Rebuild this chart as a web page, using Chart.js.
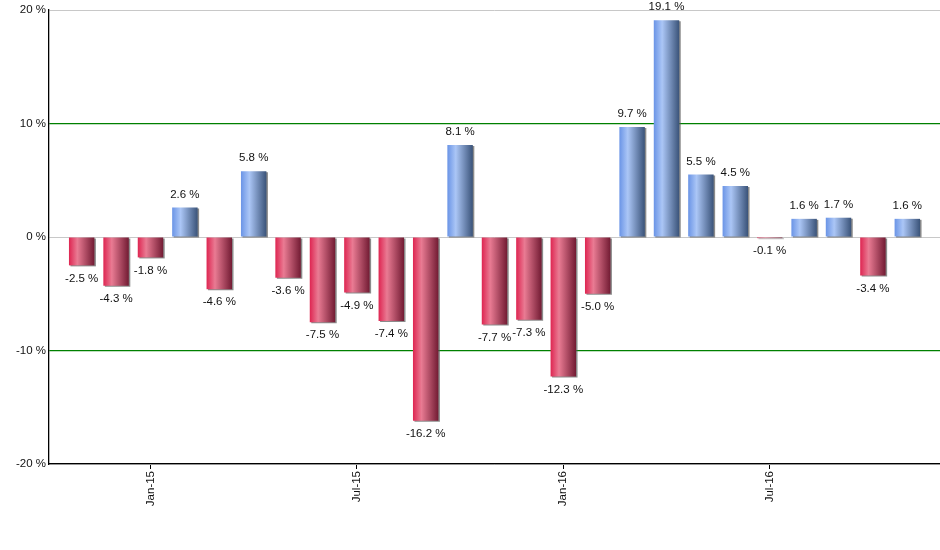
<!DOCTYPE html>
<html>
<head>
<meta charset="utf-8">
<script src="https://cdn.jsdelivr.net/npm/chart.js@4/dist/chart.umd.min.js"></script>
<style>
  html, body { margin: 0; padding: 0; background: #fff; }
  #wrap { width: 940px; height: 550px; }
</style>
</head>
<body>
<div id="wrap"><canvas id="returnsChart"></canvas></div>
<script>
// Monthly returns, Nov-14 .. Nov-16
const months = ['Nov-14', 'Dec-14', 'Jan-15', 'Feb-15', 'Mar-15', 'Apr-15', 'May-15', 'Jun-15',
    'Jul-15', 'Aug-15', 'Sep-15', 'Oct-15', 'Nov-15', 'Dec-15', 'Jan-16', 'Feb-16', 'Mar-16',
    'Apr-16', 'May-16', 'Jun-16', 'Jul-16', 'Aug-16', 'Sep-16', 'Oct-16', 'Nov-16'];
const returns = [-2.5, -4.3, -1.8, 2.6, -4.6, 5.8, -3.6, -7.5, -4.9, -7.4, -16.2, 8.1, -7.7,
    -7.3, -12.3, -5.0, 9.7, 19.1, 5.5, 4.5, -0.1, 1.6, 1.7, -3.4, 1.6];
const shownMonths = ['Jan-15', 'Jul-15', 'Jan-16', 'Jul-16'];
const yTicks = [-20, -10, 0, 10, 20];

const FONT = '"Liberation Sans", Arial, sans-serif';
const BAR_PCT = 0.74;

// horizontal gradient across each bar
function barFill(ctx) {
    const pos = returns[ctx.dataIndex] >= 0;
    const flat = pos ? '#7c9fdc' : '#b4345a';
    if (ctx.type !== 'data') return flat;
    const chart = ctx.chart;
    const xs = chart.scales.x;
    if (!xs) return flat;
    const cx = xs.getPixelForValue(ctx.dataIndex);
    const w = (xs.getPixelForValue(1) - xs.getPixelForValue(0)) * BAR_PCT;
    if (!isFinite(cx) || !isFinite(w) || w <= 0) return flat;
    const g = chart.ctx.createLinearGradient(cx - w / 2, 0, cx + w / 2, 0);
    if (pos) {
        g.addColorStop(0, '#6a94e6');
        g.addColorStop(0.33, '#abc6f6');
        g.addColorStop(1, '#3a5379');
    } else {
        g.addColorStop(0, '#de2551');
        g.addColorStop(0.33, '#e97b93');
        g.addColorStop(1, '#721b33');
    }
    return g;
}

const barShadow = {
    id: 'barShadow',
    beforeDatasetDraw(chart) {
        const c = chart.ctx;
        c.save();
        c.shadowColor = 'rgba(90,90,90,0.7)';
        c.shadowOffsetX = 1.5;
        c.shadowOffsetY = 1;
        c.shadowBlur = 0;
    },
    afterDatasetDraw(chart) {
        chart.ctx.restore();
    }
};

const valueLabels = {
    id: 'valueLabels',
    afterDatasetsDraw(chart) {
        const c = chart.ctx;
        const meta = chart.getDatasetMeta(0);
        c.save();
        c.font = '11.5px ' + FONT;
        c.fillStyle = '#111';
        c.textAlign = 'center';
        c.textBaseline = 'middle';
        meta.data.forEach((bar, i) => {
            const v = returns[i];
            const y = v >= 0 ? bar.y - 13 : bar.y + 13;
            c.fillText(v.toFixed(1) + ' %', bar.x, y);
        });
        c.restore();
    }
};

new Chart(document.getElementById('returnsChart'), {
    type: 'bar',
    data: {
        datasets: [{
            data: returns.map((v, i) => ({ x: i, y: v })),
            backgroundColor: barFill,
            borderWidth: 0,
            categoryPercentage: 1,
            barPercentage: BAR_PCT
        }]
    },
    options: {
        responsive: true,
        maintainAspectRatio: false,
        animation: false,
        layout: { padding: { top: 10, right: 0, left: 0, bottom: 0 } },
        plugins: { legend: { display: false }, tooltip: { enabled: false } },
        scales: {
            x: {
                type: 'linear',
                offset: false,
                min: -0.95,
                max: 24.95,
                afterBuildTicks: (s) => {
                    s.ticks = shownMonths.map(m => ({ value: months.indexOf(m) }));
                },
                afterFit: (s) => { s.height = 86; },
                ticks: {
                    autoSkip: false,
                    minRotation: 90,
                    maxRotation: 90,
                    padding: 2,
                    color: '#111',
                    font: { family: FONT, size: 11.5 },
                    callback: (v) => months[v]
                },
                grid: { offset: false, drawOnChartArea: false, drawTicks: true, tickLength: 5, color: '#000' },
                border: { display: true, color: '#000', width: 1.3 }
            },
            y: {
                min: -20,
                max: 20,
                afterBuildTicks: (s) => { s.ticks = yTicks.map(v => ({ value: v })); },
                afterFit: (s) => { s.width = 49; },
                ticks: {
                    padding: 3,
                    color: '#111',
                    font: { family: FONT, size: 11.5 },
                    callback: (v) => v + ' %'
                },
                grid: {
                    drawTicks: false,
                    tickLength: 0,
                    color: (ctx) => (Math.abs(ctx.tick.value) === 10 ? '#008000' : '#c8c8c8'),
                    lineWidth: (ctx) => (Math.abs(ctx.tick.value) === 10 ? 1.3 : 1)
                },
                border: { display: true, color: '#000', width: 1.3 }
            }
        }
    },
    plugins: [barShadow, valueLabels]
});
</script>
</body>
</html>
